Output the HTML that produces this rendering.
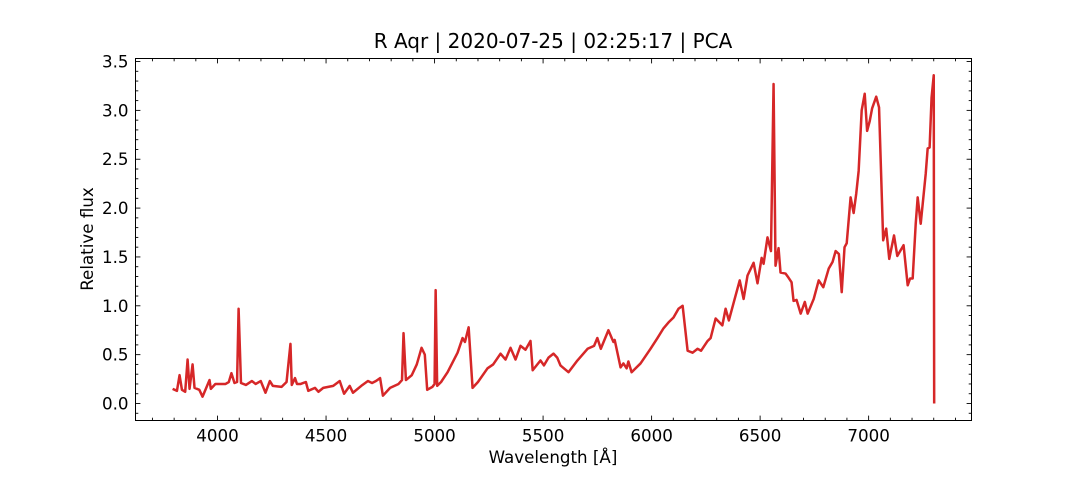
<!DOCTYPE html>
<html><head><meta charset="utf-8"><style>
body{margin:0;background:#fff}
svg{display:block;font-family:"DejaVu Sans","Liberation Sans",sans-serif}
</style></head><body>
<svg id="chart" width="1080" height="480" viewBox="0 0 1080 480" xmlns="http://www.w3.org/2000/svg">
<rect width="1080" height="480" fill="#fff"/>
<text x="553" y="48" font-size="20" text-anchor="middle" fill="#000">R Aqr | 2020-07-25 | 02:25:17 | PCA</text>
<text x="553" y="463" font-size="16.7" text-anchor="middle">Wavelength [Å]</text>
<text x="93" y="239" font-size="16.7" text-anchor="middle" transform="rotate(-90 93 239)">Relative flux</text>
<g id="ticks"></g>
<path id="line" fill="none" stroke="#d62728" stroke-width="2.5" stroke-linejoin="round"/>
<rect x="135.5" y="58.5" width="836" height="362" fill="none" stroke="#000" stroke-width="1"/>
</svg>
<script>
const wavelengths=[3793,3813,3825,3836,3851,3862,3871,3885,3894,3916,3931,3946,3963,3969,3990,4037,4052,4064,4078,4090,4097,4108,4131,4158,4176,4199,4221,4241,4255,4295,4318,4336,4342,4357,4366,4383,4407,4418,4449,4465,4487,4533,4563,4583,4609,4624,4662,4693,4712,4730,4749,4762,4795,4834,4850,4857,4868,4895,4918,4940,4955,4966,4990,5000,5005,5012,5030,5060,5106,5129,5140,5157,5175,5200,5244,5270,5304,5327,5350,5373,5396,5419,5442,5452,5488,5504,5525,5548,5565,5580,5617,5658,5705,5735,5750,5766,5801,5824,5830,5857,5870,5885,5893,5908,5949,5995,6027,6055,6078,6101,6124,6143,6166,6189,6212,6228,6258,6272,6295,6326,6341,6356,6378,6406,6424,6442,6470,6488,6507,6516,6534,6550,6562,6571,6585,6594,6617,6627,6645,6654,6668,6687,6706,6719,6747,6770,6791,6816,6834,6848,6863,6876,6889,6899,6917,6931,6943,6954,6968,6982,6993,7005,7016,7035,7048,7067,7081,7095,7117,7132,7161,7180,7191,7203,7217,7226,7240,7263,7272,7281,7290,7300,7302];
const fluxes=[0.15,0.13,0.29,0.14,0.12,0.45,0.15,0.40,0.16,0.14,0.07,0.15,0.24,0.15,0.20,0.20,0.22,0.31,0.21,0.22,0.97,0.21,0.19,0.23,0.20,0.23,0.11,0.23,0.18,0.17,0.22,0.61,0.19,0.26,0.20,0.20,0.22,0.13,0.16,0.12,0.16,0.18,0.23,0.10,0.18,0.11,0.18,0.23,0.21,0.23,0.26,0.08,0.16,0.20,0.24,0.72,0.24,0.29,0.40,0.57,0.50,0.14,0.17,0.20,1.16,0.18,0.22,0.32,0.52,0.67,0.63,0.78,0.16,0.22,0.36,0.40,0.51,0.45,0.57,0.45,0.59,0.55,0.64,0.34,0.44,0.39,0.47,0.51,0.47,0.39,0.32,0.44,0.56,0.59,0.67,0.56,0.75,0.63,0.65,0.37,0.41,0.36,0.43,0.32,0.41,0.56,0.67,0.77,0.83,0.88,0.97,1.00,0.54,0.52,0.56,0.54,0.64,0.67,0.87,0.80,0.97,0.85,1.03,1.26,1.07,1.31,1.44,1.23,1.49,1.43,1.70,1.56,3.27,1.41,1.59,1.34,1.33,1.30,1.24,1.05,1.06,0.92,1.04,0.92,1.07,1.26,1.19,1.38,1.45,1.56,1.53,1.14,1.60,1.64,2.11,1.95,2.15,2.38,3.00,3.17,2.79,2.89,3.02,3.14,3.03,1.67,1.79,1.48,1.72,1.51,1.62,1.21,1.28,1.28,1.84,2.11,1.84,2.35,2.61,2.62,3.13,3.36,0.0];
const xTicks=[4000,4500,5000,5500,6000,6500,7000];
const yTicks=[0.0,0.5,1.0,1.5,2.0,2.5,3.0,3.5];
const yTickLabels=["0.0","0.5","1.0","1.5","2.0","2.5","3.0","3.5"];
const X0=135.5,X1=971.5,Y0=420.5,Y1=58.5;
const xMin=3622,xMax=7474,yMin=-0.174,yMax=3.531;
function sx(v){return X0+(v-xMin)/(xMax-xMin)*(X1-X0);}
function sy(v){return Y0-(v-yMin)/(yMax-yMin)*(Y0-Y1);}
let d='';
for(let i=0;i<wavelengths.length;i++){d+=(i?'L':'M')+sx(wavelengths[i]).toFixed(2)+' '+sy(fluxes[i]).toFixed(2);}
document.getElementById('line').setAttribute('d',d);
const g=document.getElementById('ticks');
const NS='http://www.w3.org/2000/svg';
function ln(x1,y1,x2,y2){const l=document.createElementNS(NS,'line');l.setAttribute('x1',x1);l.setAttribute('y1',y1);l.setAttribute('x2',x2);l.setAttribute('y2',y2);l.setAttribute('stroke','#000');l.setAttribute('stroke-width','0.9');


g.appendChild(l);}
for(let v=3700;v<=7400;v+=100){const x=sx(v);const major=v%500===0;const L=major?4.9:2.8;ln(x,Y0,x,Y0-L);ln(x,Y1,x,Y1+L);}
for(let k=-1;k<=35;k++){const v=k/10;const y=sy(v);const major=k%5===0;const L=major?4.9:2.8;ln(X0,y,X0+L,y);ln(X1,y,X1-L,y);}
xTicks.forEach(v=>{const t=document.createElementNS(NS,'text');t.setAttribute('x',sx(v));t.setAttribute('y',Y0+21);t.setAttribute('font-size','16.7');t.setAttribute('text-anchor','middle');t.textContent=v;


g.appendChild(t);});
yTicks.forEach((v,i)=>{const t=document.createElementNS(NS,'text');t.setAttribute('x',X0-7);t.setAttribute('y',sy(v)+6);t.setAttribute('font-size','16.7');t.setAttribute('text-anchor','end');t.textContent=yTickLabels[i];


g.appendChild(t);});
</script>
</body></html>
